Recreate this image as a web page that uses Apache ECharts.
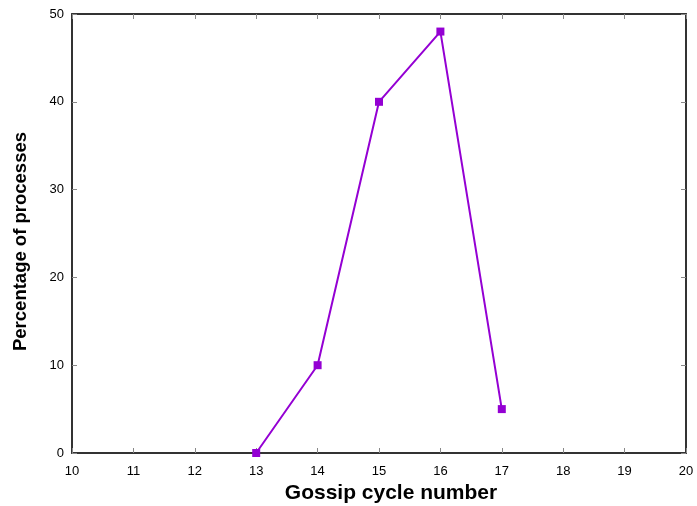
<!DOCTYPE html>
<html><head><meta charset="utf-8">
<script src="https://cdn.jsdelivr.net/npm/echarts@6/dist/echarts.min.js"></script>
<style>html,body{margin:0;padding:0;background:#fff}#c{width:697px;height:506px}</style>
</head><body><div id="c"></div>
<script>
const cycles = [13, 14, 15, 16, 17];
const percents = [0, 10, 40, 48, 5];
const xTitle = 'Gossip cycle number';
const yTitle = 'Percentage of processes';

const chart = echarts.init(document.getElementById('c'));
const axisLine = {show: true, onZero: false, lineStyle: {color: '#333', width: 2}};
const tick = {show: true, inside: true, length: 5, lineStyle: {color: '#888', width: 1}};
const lbl = {color: '#000', fontFamily: 'Liberation Sans, Arial', fontSize: 13};
chart.setOption({
  animation: false,
  grid: {left: 72, top: 14, right: 11, bottom: 53, containLabel: false, outerBoundsMode: 'none'},
  xAxis: [
    {type: 'value', min: 10, max: 20, interval: 1, position: 'bottom',
     axisLine: axisLine, axisTick: tick, splitLine: {show: false},
     axisLabel: Object.assign({margin: 12}, lbl),
     name: xTitle, nameLocation: 'middle', nameGap: 29,
     nameTextStyle: {fontFamily: 'Liberation Sans, Arial', fontSize: 21, fontWeight: 'bold', color: '#000', padding: [0, 0, 0, 24]}},
    {type: 'value', min: 10, max: 20, interval: 1, position: 'top',
     axisLine: axisLine, axisTick: tick, splitLine: {show: false}, axisLabel: {show: false}}
  ],
  yAxis: [
    {type: 'value', min: 0, max: 50, interval: 10, position: 'left',
     axisLine: axisLine, axisTick: tick, splitLine: {show: false},
     axisLabel: Object.assign({margin: 8}, lbl),
     name: yTitle, nameLocation: 'middle', nameGap: 42,
     nameTextStyle: {fontFamily: 'Liberation Sans, Arial', fontSize: 18.5, fontWeight: 'bold', color: '#000', padding: [0, 16, 0, 0]}},
    {type: 'value', min: 0, max: 50, interval: 10, position: 'right',
     axisLine: axisLine, axisTick: tick, splitLine: {show: false}, axisLabel: {show: false}}
  ],
  series: [{
    type: 'line',
    data: cycles.map((c, i) => [c, percents[i]]),
    symbol: 'rect', symbolSize: 8,
    lineStyle: {color: '#9400D3', width: 2},
    itemStyle: {color: '#9400D3'}
  }]
});
</script></body></html>
